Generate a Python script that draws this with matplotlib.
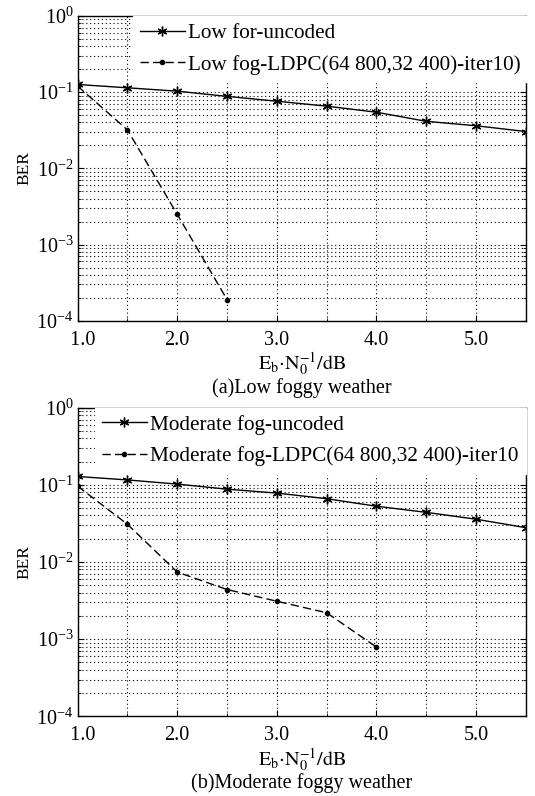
import matplotlib
matplotlib.use('Agg')
import matplotlib.pyplot as plt
from matplotlib.ticker import LogLocator, MultipleLocator, NullFormatter, FuncFormatter

plt.rcParams['font.family'] = ['Liberation Serif', 'DejaVu Serif']
plt.rcParams['mathtext.fontset'] = 'stix'

# Eb/N0 values (dB)
snr_unc = [1.0, 1.5, 2.0, 2.5, 3.0, 3.5, 4.0, 4.5, 5.0, 5.5]

# (a) low fog
low_unc = [0.126, 0.114, 0.103, 0.088, 0.076, 0.0655, 0.0545, 0.0414, 0.0362, 0.0304]
low_ldpc_x = [1.0, 1.5, 2.0, 2.5]
low_ldpc = [0.12, 0.032, 0.0025, 0.00019]

# (b) moderate fog
mod_unc = [0.128, 0.1155, 0.102, 0.0877, 0.078, 0.066, 0.0527, 0.0439, 0.0358, 0.0278]
mod_ldpc_x = [1.0, 1.5, 2.0, 2.5, 3.0, 3.5, 4.0]
mod_ldpc = [0.096, 0.0308, 0.0074, 0.0044, 0.0031, 0.0022, 0.00079]

panels = [
    (low_unc, low_ldpc_x, low_ldpc, 'Low for-uncoded',
     'Low fog-LDPC(64 800,32 400)-iter10)', '(a)Low foggy weather', 0.123),
    (mod_unc, mod_ldpc_x, mod_ldpc, 'Moderate fog-uncoded',
     'Moderate fog-LDPC(64 800,32 400)-iter10', '(b)Moderate foggy weather', 0.038),
]


def xfmt(v, pos):
    # first label sits a bit right of its tick in the original
    s = '%.1f' % v
    return '\u2002' + s if abs(v - 1.0) < 1e-9 else s


fig = plt.figure(figsize=(5.35, 7.96), dpi=100)
rects = [[0.145, 0.597, 0.838, 0.383], [0.145, 0.1, 0.838, 0.388]]
gls = (0, (1, 2.5))

for rect, (unc, lx, ly, lab1, lab2, cap, legx) in zip(rects, panels):
    ax = fig.add_axes(rect)
    ax.semilogy(snr_unc, unc, color='black', lw=1.0, marker=(6, 2, 0), ms=7, mew=1.0, label=lab1)
    ax.semilogy(lx, ly, color='black', lw=1.0, ls=(0, (6, 3)), marker='.', ms=6, label=lab2)
    ax.set_xlim(1.0, 5.5)
    ax.set_ylim(1e-4, 1)
    ax.xaxis.set_major_locator(MultipleLocator(1.0))
    ax.xaxis.set_minor_locator(MultipleLocator(0.5))
    ax.xaxis.set_major_formatter(FuncFormatter(xfmt))
    ax.yaxis.set_major_locator(LogLocator(base=10, numticks=10))
    ax.yaxis.set_minor_locator(LogLocator(base=10, subs=range(2, 10), numticks=20))
    ax.yaxis.set_minor_formatter(NullFormatter())
    ax.grid(True, which='both', axis='both', color='black', ls=gls, lw=0.8)
    ax.tick_params(which='both', direction='in', labelsize=14.5, top=False, right=True)
    ax.tick_params(which='major', length=4, pad=3)
    ax.tick_params(axis='x', which='major', pad=7)
    ax.tick_params(which='minor', length=2.5)
    for s in ax.spines.values():
        s.set_linewidth(1.0)
    ax.set_ylabel('BER', fontsize=12.5, labelpad=3)
    ax.set_xlabel(r'$\mathrm{E_b{\cdot}N_0^{-1}/dB}$', fontsize=14.5, va='center')
    h = rect[3] * 796
    ax.xaxis.set_label_coords(0.5, -44 / h)
    ax.text(0.5, -67 / h, cap, transform=ax.transAxes, ha='center', va='center', fontsize=14.5)
    ax.legend(loc='upper left', bbox_to_anchor=(legx, 1.0), fontsize=15.3,
              frameon=True, fancybox=False, framealpha=1, edgecolor='white',
              borderpad=0.35, labelspacing=0.55, handlelength=2.1, handletextpad=0.15,
              borderaxespad=0.0)

fig.savefig('out.png', dpi=100)
